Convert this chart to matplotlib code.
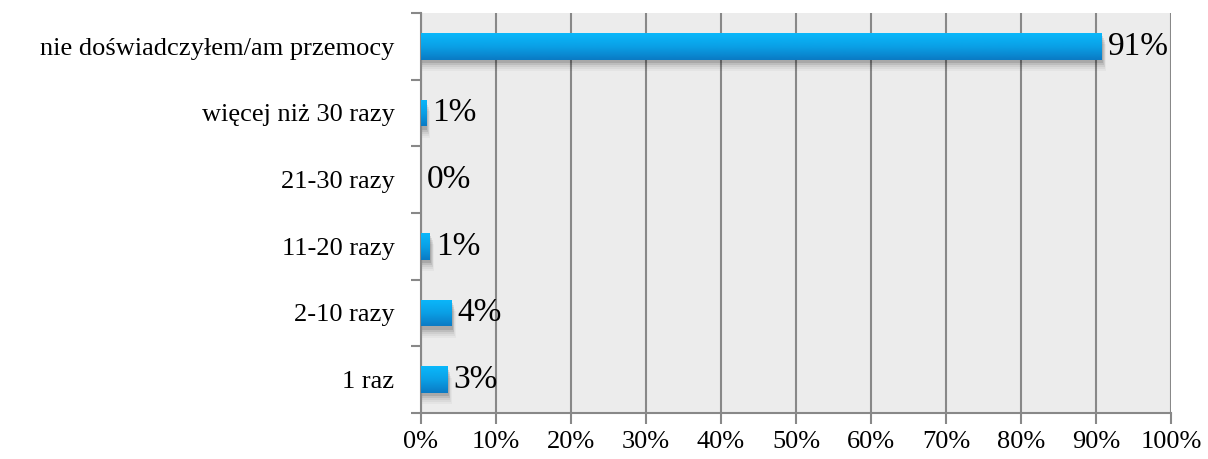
import matplotlib
matplotlib.use("Agg")
import matplotlib.pyplot as plt
import numpy as np
from matplotlib.colors import LinearSegmentedColormap
from matplotlib.ticker import FixedLocator

categories = ["1 raz", "2-10 razy", "11-20 razy", "21-30 razy", "więcej niż 30 razy",
              "nie doświadczyłem/am przemocy"]
values = [3.56, 4.1, 1.2, 0.0, 0.67, 90.8]
labels = ["3%", "4%", "1%", "0%", "1%", "91%"]
xticks = [0, 10, 20, 30, 40, 50, 60, 70, 80, 90, 100]
xticklabels = [f"{t}%" for t in xticks]

plt.rcParams['font.family'] = ['Liberation Serif', 'DejaVu Serif']

fig = plt.figure(figsize=(12.08, 4.59), dpi=100)
ax = fig.add_axes([421/1208, 1-413/459, 750/1208, 400/459])
ax.set_facecolor("#ececec")

for s in ["top", "right"]:
    ax.spines[s].set_visible(False)
for s in ["left", "bottom"]:
    ax.spines[s].set_color("#888888")
    ax.spines[s].set_linewidth(1.5)

ax.set_xticks(xticks)
ax.set_xticklabels(xticklabels, fontsize=19)
ax.xaxis.grid(True, color="#888888", linewidth=1.5)
ax.set_axisbelow(True)
ax.tick_params(axis="x", length=8, width=1.5, color="#888888", pad=5)

ys = np.arange(len(categories))
ax.set_yticks(ys)
ax.set_yticklabels(categories, fontsize=19)
ax.tick_params(axis="y", which="major", length=0, pad=19)
ax.yaxis.set_minor_locator(FixedLocator(np.arange(-0.5, len(categories), 1.0)))
ax.tick_params(axis="y", which="minor", length=7, width=1.5, color="#888888")

cmap = LinearSegmentedColormap.from_list("g", ["#0a7ac4", "#0aa0e6", "#0ab8fb"])
h = 0.4
for y, v, lab in zip(ys, values, labels):
    if v > 0:
        # shadow
        for k, a in enumerate([0.10, 0.08, 0.06, 0.04, 0.03]):
            d = 0.03 * (k + 1)
            ax.add_patch(plt.Rectangle((0, y - h / 2 - d - 0.02), v + 0.15 + 0.1 * k, h,
                                       color="black", alpha=a, lw=0, zorder=2))
        bar = ax.barh(y, v, height=h, color="none", zorder=3)[0]
        grad = np.linspace(0, 1, 100).reshape(-1, 1)
        im = ax.imshow(grad, cmap=cmap, aspect="auto", origin="lower",
                       extent=[0, v, y - h / 2, y + h / 2], zorder=3)
        im.set_clip_path(bar)
    ax.text(v + 0.8, y, lab, va="center", ha="left", fontsize=24, zorder=4)

ax.set_xlim(0, 100)
ax.set_ylim(-0.5, len(categories) - 0.5)

fig.savefig("out.png", dpi=100)
